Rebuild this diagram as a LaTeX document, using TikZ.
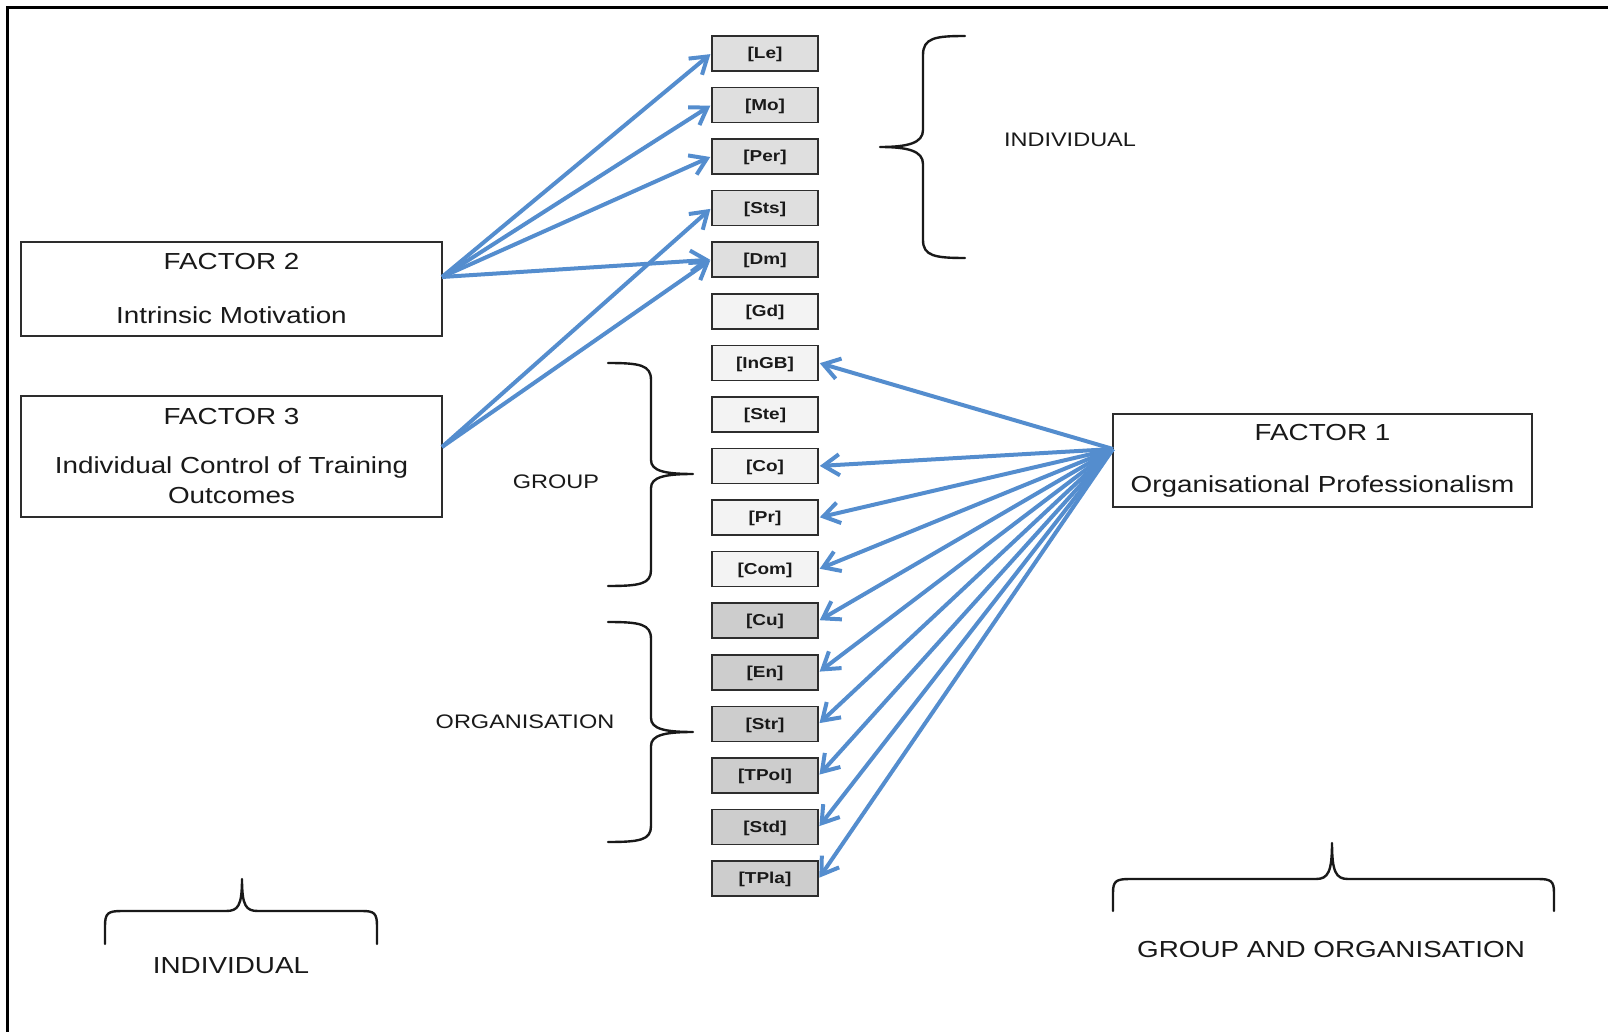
\documentclass[tikz,border=0pt]{standalone}
\usepackage{fontspec}
\setmainfont[FakeStretch=1.2]{Liberation Sans}
\usetikzlibrary{arrows.meta}
\definecolor{arrblue}{RGB}{84,141,206}
\definecolor{boxA}{RGB}{223,223,223}
\definecolor{boxB}{RGB}{243,243,243}
\definecolor{boxC}{RGB}{205,205,205}
\definecolor{edgec}{RGB}{45,45,45}
\definecolor{txt}{RGB}{25,25,25}
\begin{document}
\begin{tikzpicture}[x=0.5pt,y=-0.5pt,
  item/.style={draw=edgec,line width=0.8pt,minimum width=53pt,minimum height=17.5pt,inner sep=0pt,
    font=\fontsize{7.9}{10}\selectfont\bfseries,text=txt,text height=6.6pt,text depth=1.4pt},
  itemA/.style={item,fill=boxA},
  itemB/.style={item,fill=boxB},
  itemC/.style={item,fill=boxC},
  factor/.style={draw=edgec,line width=0.7pt,inner sep=0pt,fill=white},
  ftext/.style={font=\fontsize{11.6}{13.5}\selectfont,text=txt,inner sep=0pt,align=center},
  mtext/.style={font=\fontsize{9.8}{11}\selectfont,text=txt,inner sep=0pt},
  btext/.style={font=\fontsize{11.6}{13}\selectfont,text=txt,inner sep=0pt},
  conn/.style={draw=arrblue,line width=2pt,-{Straight Barb[length=8pt,width=10.5pt]},shorten >=0.5pt},
  brace/.style={draw=black!90,line width=1.2pt,line cap=round,line join=round}
]
\useasboundingbox (0,0) rectangle (1608,1032);
% frame (top and left only)
\draw[line width=1.5pt] (7.5,1032) -- (7.5,7.5) -- (1608,7.5);

% item column
\node[itemA] (Le)   at (765,53.5)  {[Le]};
\node[itemA] (Mo)   at (765,105.1) {[Mo]};
\node[itemA] (Per)  at (765,156.6) {[Per]};
\node[itemA] (Sts)  at (765,208.2) {[Sts]};
\node[itemA] (Dm)   at (765,259.7) {[Dm]};
\node[itemB] (Gd)   at (765,311.3) {[Gd]};
\node[itemB] (InGB) at (765,362.9) {[InGB]};
\node[itemB] (Ste)  at (765,414.4) {[Ste]};
\node[itemB] (Co)   at (765,466.0) {[Co]};
\node[itemB] (Pr)   at (765,517.5) {[Pr]};
\node[itemB] (Com)  at (765,569.1) {[Com]};
\node[itemC] (Cu)   at (765,620.7) {[Cu]};
\node[itemC] (En)   at (765,672.2) {[En]};
\node[itemC] (Str)  at (765,723.8) {[Str]};
\node[itemC] (TPol) at (765,775.3) {[TPol]};
\node[itemC] (Std)  at (765,826.9) {[Std]};
\node[itemC] (TPla) at (765,878.5) {[TPla]};

% factor boxes
\node[factor,minimum width=210.5pt,minimum height=47pt] (F2) at (231.5,289) {};
\node[ftext] (F2a) at (231.5,262) {FACTOR 2};
\node[ftext] (F2b) at (231.5,315) {Intrinsic Motivation};

\node[factor,minimum width=210.5pt,minimum height=60.5pt] (F3) at (231.5,456.5) {};
\node[ftext] (F3a) at (231.5,417) {FACTOR 3};
\node[ftext] (F3b) at (231.5,468) {Individual Control of Training};
\node[ftext] (F3c) at (231.5,496) {Outcomes};

\node[factor,minimum width=209.5pt,minimum height=46.5pt] (F1) at (1322.5,460.5) {};
\node[ftext] (F1a) at (1322.5,433) {FACTOR 1};
\node[ftext] (F1b) at (1322.5,487) {Organisational Professionalism};

% connector origins
\coordinate (o2) at (442,277);
\coordinate (o3) at (442,447);
\coordinate (o1) at (1113,449);

\foreach \t in {Le,Mo,Per,Dm} \draw[conn] (o2) -- (\t.west);
\foreach \t in {Sts,Dm} \draw[conn] (o3) -- (\t.west);
\foreach \t in {InGB,Co,Pr,Com,Cu,En,Str,TPol,Std,TPla} \draw[conn] (o1) -- (\t.east);

% braces
\draw[brace] (965,36) .. controls (935,36) and (923,38) .. (923,55) -- (923,130)
  .. controls (923,143) and (908,147) .. (880,147)
  .. controls (908,147) and (923,151) .. (923,164) -- (923,240)
  .. controls (923,256) and (935,258) .. (965,258);
\node[mtext] (lInd) at (1070,140) {INDIVIDUAL};

\draw[brace] (608,363) .. controls (640,363) and (651,365) .. (651,380) -- (651,460)
  .. controls (651,471) and (665,474) .. (693,474)
  .. controls (665,474) and (651,477) .. (651,488) -- (651,570)
  .. controls (651,584) and (640,586) .. (608,586);
\node[mtext] (lGrp) at (556,482) {GROUP};

\draw[brace] (608,622) .. controls (640,622) and (651,624) .. (651,639) -- (651,718)
  .. controls (651,729) and (665,732) .. (693,732)
  .. controls (665,732) and (651,735) .. (651,746) -- (651,826)
  .. controls (651,840) and (640,842) .. (608,842);
\node[mtext] (lOrg) at (525,722) {ORGANISATION};

\draw[brace] (105,944) -- (105,926) .. controls (105,913) and (108,911) .. (122,911) -- (226,911)
  .. controls (238,911) and (242,906) .. (242,879)
  .. controls (242,906) and (246,911) .. (258,911) -- (362,911)
  .. controls (374,911) and (377,913) .. (377,926) -- (377,944);
\node[btext] (lInd2) at (231,966) {INDIVIDUAL};

\draw[brace] (1113,911) -- (1113,893) .. controls (1113,881) and (1116,879) .. (1130,879) -- (1316,879)
  .. controls (1328,879) and (1332,872) .. (1332,843)
  .. controls (1332,872) and (1336,879) .. (1348,879) -- (1538,879)
  .. controls (1551,879) and (1554,881) .. (1554,893) -- (1554,911);
\node[btext] (lGO) at (1331,950) {GROUP AND ORGANISATION};
\end{tikzpicture}
\end{document}
